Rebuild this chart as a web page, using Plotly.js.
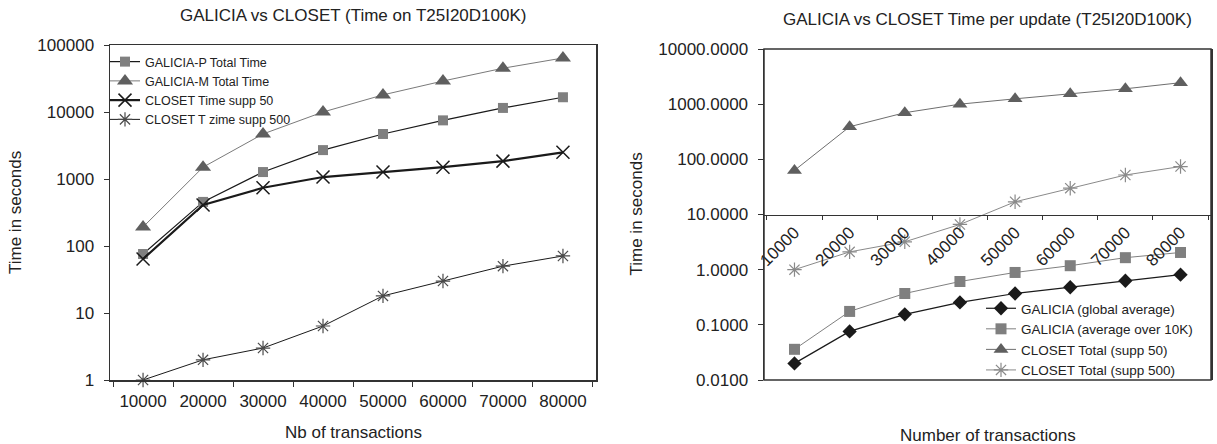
<!DOCTYPE html>
<html>
<head>
<meta charset="utf-8">
<script src="https://cdn.plot.ly/plotly-3.0.1.min.js"></script>
<style>
html,body{margin:0;padding:0;background:#fff;}
#chart{width:1217px;height:444px;}
</style>
</head>
<body>
<div id="chart"></div>
<script>
// ---- data ----
const categories = ['10000','20000','30000','40000','50000','60000','70000','80000'];

// left chart: total time (seconds)
const galiciaPTotal = [76, 455, 1270, 2700, 4700, 7500, 11500, 16600];
const galiciaMTotal = [192, 1500, 4700, 10000, 18000, 29000, 45000, 64000];
const closetSupp50 = [64, 410, 740, 1070, 1270, 1500, 1850, 2500];
const closetSupp500 = [1, 2, 3, 6.4, 18, 30, 50, 71];

// right chart: time per update (seconds)
const galiciaGlobalAvg = [0.020, 0.076, 0.155, 0.255, 0.37, 0.48, 0.63, 0.81];
const galiciaAvg10K = [0.036, 0.175, 0.37, 0.61, 0.89, 1.18, 1.65, 2.05];
const closetTotal50 = [63, 390, 700, 1000, 1250, 1540, 1900, 2450];
const closetTotal500 = [1, 2.1, 3.2, 6.6, 17, 30, 52, 74];

const leftTitle = 'GALICIA vs CLOSET (Time on T25I20D100K)';
const rightTitle = 'GALICIA vs CLOSET Time per update (T25I20D100K)';
const leftXTitle = 'Nb of transactions';
const rightXTitle = 'Number of transactions';
const yTitle = 'Time in seconds';

// ---- layout geometry ----
const W = 1217, H = 444;
const FONT = 'Liberation Sans, Arial, sans-serif';
const TXT = '#222';
const leftDomX = [110/W, 596/W];
const leftDomY = [(H-380)/H, (H-45)/H];
const rightDomX = [764/W, 1211/W];
const rightDomY = [(H-380)/H, (H-49)/H];
const rightYRange = [-2, 4];
// x axis of right chart crosses at y = 10 (log 1)
const crossFrac = (1 - rightYRange[0]) / (rightYRange[1] - rightYRange[0]);
const rightXPos = rightDomY[0] + crossFrac * (rightDomY[1] - rightDomY[0]);

const traces = [
  {x: categories, y: galiciaPTotal, name: 'GALICIA-P Total Time', type: 'scatter', mode: 'lines+markers',
   xaxis: 'x', yaxis: 'y', legend: 'legend', cliponaxis: false,
   line: {color: '#1a1a1a', width: 1.2}, marker: {symbol: 'square', size: 10, color: '#808080'}},
  {x: categories, y: galiciaMTotal, name: 'GALICIA-M Total Time', type: 'scatter', mode: 'lines+markers',
   xaxis: 'x', yaxis: 'y', legend: 'legend', cliponaxis: false,
   line: {color: '#7a7a7a', width: 1}, marker: {symbol: 'triangle-up', size: 14, color: '#5f5f5f'}},
  {x: categories, y: closetSupp50, name: 'CLOSET Time supp 50', type: 'scatter', mode: 'lines+markers',
   xaxis: 'x', yaxis: 'y', legend: 'legend', cliponaxis: false,
   line: {color: '#1a1a1a', width: 2.2}, marker: {symbol: 'x-thin-open', size: 13, color: '#1a1a1a', line: {width: 1.5, color: '#1a1a1a'}}},
  {x: categories, y: closetSupp500, name: 'CLOSET T zime supp 500', type: 'scatter', mode: 'lines+markers',
   xaxis: 'x', yaxis: 'y', legend: 'legend', cliponaxis: false,
   line: {color: '#1a1a1a', width: 1}, marker: {symbol: 'asterisk-open', size: 12, color: '#4a4a4a', line: {width: 1.2, color: '#4a4a4a'}}},

  {x: categories, y: galiciaGlobalAvg, name: 'GALICIA (global average)', type: 'scatter', mode: 'lines+markers',
   xaxis: 'x2', yaxis: 'y2', legend: 'legend2', cliponaxis: false,
   line: {color: '#1a1a1a', width: 1.2}, marker: {symbol: 'diamond', size: 11, color: '#1a1a1a'}},
  {x: categories, y: galiciaAvg10K, name: 'GALICIA (average over 10K)', type: 'scatter', mode: 'lines+markers',
   xaxis: 'x2', yaxis: 'y2', legend: 'legend2', cliponaxis: false,
   line: {color: '#808080', width: 1}, marker: {symbol: 'square', size: 11, color: '#7f7f7f'}},
  {x: categories, y: closetTotal50, name: 'CLOSET Total (supp 50)', type: 'scatter', mode: 'lines+markers',
   xaxis: 'x2', yaxis: 'y2', legend: 'legend2', cliponaxis: false,
   line: {color: '#6e6e6e', width: 1}, marker: {symbol: 'triangle-up', size: 13, color: '#5f5f5f'}},
  {x: categories, y: closetTotal500, name: 'CLOSET Total (supp 500)', type: 'scatter', mode: 'lines+markers',
   xaxis: 'x2', yaxis: 'y2', legend: 'legend2', cliponaxis: false,
   line: {color: '#8a8a8a', width: 1}, marker: {symbol: 'asterisk-open', size: 12, color: '#8a8a8a', line: {width: 1.2, color: '#8a8a8a'}}}
];

const axisFont = {family: FONT, size: 17, color: TXT};
const titleFont = {family: FONT, size: 17, color: TXT};

const layout = {
  width: W, height: H,
  margin: {l: 0, r: 0, t: 0, b: 0},
  paper_bgcolor: '#fff', plot_bgcolor: '#fff',
  font: {family: FONT, color: TXT},
  showlegend: true,
  xaxis: {
    domain: leftDomX, anchor: 'y', type: 'category',
    showline: true, linecolor: '#333', linewidth: 1.5, mirror: true,
    ticks: 'outside', tickson: 'boundaries', ticklen: 5, tickcolor: '#333',
    ticklabelstandoff: 5,
    showgrid: false, zeroline: false, tickfont: axisFont
  },
  yaxis: {
    domain: leftDomY, anchor: 'x', type: 'log', range: [0, 5], dtick: 1, tickformat: 'd',
    showline: true, linecolor: '#333', linewidth: 1.5, mirror: true,
    ticks: 'outside', ticklen: 5, tickcolor: '#333',
    ticklabelstandoff: 6,
    showgrid: false, zeroline: false, tickfont: axisFont
  },
  xaxis2: {
    domain: rightDomX, anchor: 'free', position: rightXPos, type: 'category',
    showline: true, linecolor: '#333', linewidth: 1.5,
    ticks: 'outside', tickson: 'boundaries', ticklen: 4, tickcolor: '#333',
    tickangle: -45, showgrid: false, zeroline: false, tickfont: axisFont
  },
  yaxis2: {
    domain: rightDomY, anchor: 'x2', type: 'log', range: rightYRange, dtick: 1, tickformat: '.4f',
    showline: true, linecolor: '#333', linewidth: 1.5, mirror: true,
    ticks: 'outside', ticklen: 5, tickcolor: '#333',
    ticklabelstandoff: 6,
    showgrid: false, zeroline: false, tickfont: axisFont
  },
  legend: {
    x: 105/W, y: (H-47)/H, xanchor: 'left', yanchor: 'top',
    bgcolor: 'rgba(0,0,0,0)', font: {family: FONT, size: 12.5, color: TXT},
    tracegroupgap: 0, itemwidth: 30
  },
  legend2: {
    x: 981/W, y: (H-293)/H, xanchor: 'left', yanchor: 'top',
    bgcolor: 'rgba(255,255,255,0)', font: {family: FONT, size: 13.5, color: TXT},
    tracegroupgap: 0, itemwidth: 30
  },
  shapes: [
    {type: 'rect', xref: 'x2 domain', yref: 'y2 domain', x0: 0, x1: 1, y0: 0, y1: 1,
     line: {color: '#333', width: 1.5}, fillcolor: 'rgba(0,0,0,0)', layer: 'above'}
  ],
  annotations: [
    {text: leftTitle, xref: 'x domain', yref: 'paper', x: 0.5, y: (H-16)/H, xanchor: 'center', yanchor: 'middle',
     showarrow: false, font: titleFont},
    {text: rightTitle, xref: 'x2 domain', yref: 'paper', x: 0.5, y: (H-20)/H, xanchor: 'center', yanchor: 'middle',
     showarrow: false, font: titleFont},
    {text: leftXTitle, xref: 'x domain', yref: 'paper', x: 0.5, y: (H-432)/H, xanchor: 'center', yanchor: 'middle',
     showarrow: false, font: titleFont},
    {text: rightXTitle, xref: 'x2 domain', yref: 'paper', x: 0.5, y: (H-435)/H, xanchor: 'center', yanchor: 'middle',
     showarrow: false, font: titleFont},
    {text: yTitle, xref: 'paper', yref: 'y domain', x: 15.5/W, y: 0.5, xanchor: 'center', yanchor: 'middle',
     textangle: -90, showarrow: false, font: titleFont},
    {text: yTitle, xref: 'paper', yref: 'y2 domain', x: 636/W, y: 0.5, xanchor: 'center', yanchor: 'middle',
     textangle: -90, showarrow: false, font: titleFont}
  ]
};

Plotly.newPlot('chart', traces, layout, {displayModeBar: false, staticPlot: true});
</script>
</body>
</html>
